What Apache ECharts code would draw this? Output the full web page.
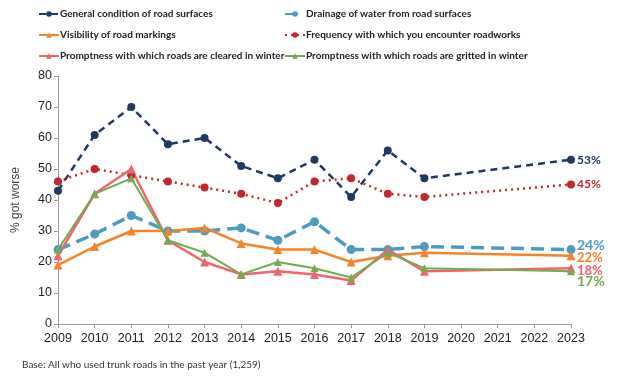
<!DOCTYPE html>
<html>
<head>
<meta charset="utf-8">
<script src="https://cdn.jsdelivr.net/npm/echarts@6/dist/echarts.min.js"></script>
<style>html,body{margin:0;padding:0;background:#fff;}#c{width:624px;height:380px;}</style>
</head>
<body>
<div id="c"></div>
<script>
const years = ['2009','2010','2011','2012','2013','2014','2015','2016','2017','2018','2019','2020','2021','2022','2023'];
const yTicks = [0,10,20,30,40,50,60,70,80];
const general    = [43,61,70,58,60,51,47,53,41,56,47,null,null,null,53];
const drainage   = [24,29,35,30,30,31,27,33,24,24,25,null,null,null,24];
const visibility = [19,25,30,30,31,26,24,24,20,22,23,null,null,null,22];
const frequency  = [46,50,48,46,44,42,39,46,47,42,41,null,null,null,45];
const cleared    = [22,42,50,27,20,16,17,16,14,24,17,null,null,null,18];
const gritted    = [24,42,47,27,23,16,20,18,15,23,18,null,null,null,17];

const names = ['General condition of road surfaces','Drainage of water from road surfaces','Visibility of road markings','Frequency with which you encounter roadworks','Promptness with which roads are cleared in winter','Promptness with which roads are gritted in winter'];

const chart = echarts.init(document.getElementById('c'));
function mk(name, data, color, symbol, size, lineType, width, labelOffset, labelSize) {
  return {
    name: name, type: 'line', data: data, connectNulls: true,
    symbol: symbol, symbolSize: size,
    itemStyle: {color: color},
    lineStyle: {color: color, width: width, type: lineType},
    endLabel: {show: true, formatter: p => p.value + '%', color: color, fontWeight: 'bold', fontSize: labelSize, fontFamily: 'Lato, sans-serif', distance: 6, offset: labelOffset},
    emphasis: {disabled: true}
  };
}
const legendCommon = {
  orient: 'vertical', itemWidth: 20, itemHeight: 7, itemGap: 9,
  textStyle: {fontSize: 10, fontWeight: 'bold', color: '#222', fontFamily: 'Lato, sans-serif', padding: [0,0,0,-4], lineHeight: 12},
  padding: 0
};
chart.setOption({
  animation: false,
  grid: {left: 58, right: 53, top: 76, bottom: 56},
  legend: [
    Object.assign({left: 38, top: 8, data: [names[0], names[2], names[4]]}, legendCommon),
    Object.assign({left: 284, top: 8, data: [names[1], names[3], names[5]]}, legendCommon)
  ],
  xAxis: {
    type: 'category', data: years, boundaryGap: false,
    axisLine: {lineStyle: {color: '#999', width: 1}},
    axisTick: {show: true, inside: false, length: 4, lineStyle: {color: '#999'}, alignWithLabel: true},
    axisLabel: {color: '#222', fontSize: 12.5, fontFamily: 'Liberation Sans, Arial', margin: 8, interval: 0}
  },
  yAxis: {
    type: 'value', min: yTicks[0], max: yTicks[yTicks.length-1], interval: 10,
    name: '% got worse', nameLocation: 'middle', nameGap: 36, nameRotate: 90,
    nameTextStyle: {color: '#444', fontSize: 12, fontFamily: 'Liberation Sans, Arial'},
    axisLine: {show: true, lineStyle: {color: '#999'}},
    axisTick: {show: true, length: 4, lineStyle: {color: '#999'}},
    splitLine: {show: false},
    axisLabel: {color: '#222', fontSize: 12.5, fontFamily: 'Liberation Sans, Arial', margin: 6}
  },
  series: [
    mk(names[0], general, '#1f3864', 'circle', 8, [7,5], 2.5, [0,0], 12),
    mk(names[1], drainage, '#4b9cc0', 'circle', 9, [13,7], 3.5, [0,-4], 14),
    mk(names[2], visibility, '#f5832a', 'triangle', 9, 'solid', 2.5, [0,2], 13),
    mk(names[3], frequency, '#c1272d', 'circle', 8, [2,4], 2.5, [0,0], 12),
    mk(names[4], cleared, '#f0646e', 'triangle', 9, 'solid', 2.5, [0,3], 13),
    mk(names[5], gritted, '#72ac4d', 'triangle', 8, 'solid', 2, [0,10], 14)
  ],
  graphic: [{
    type: 'text', left: 22, top: 360,
    style: {text: 'Base: All who used trunk roads in the past year (1,259)', fontSize: 10, fill: '#333', fontFamily: 'Lato, sans-serif'}
  }]
});
</script>
</body>
</html>
